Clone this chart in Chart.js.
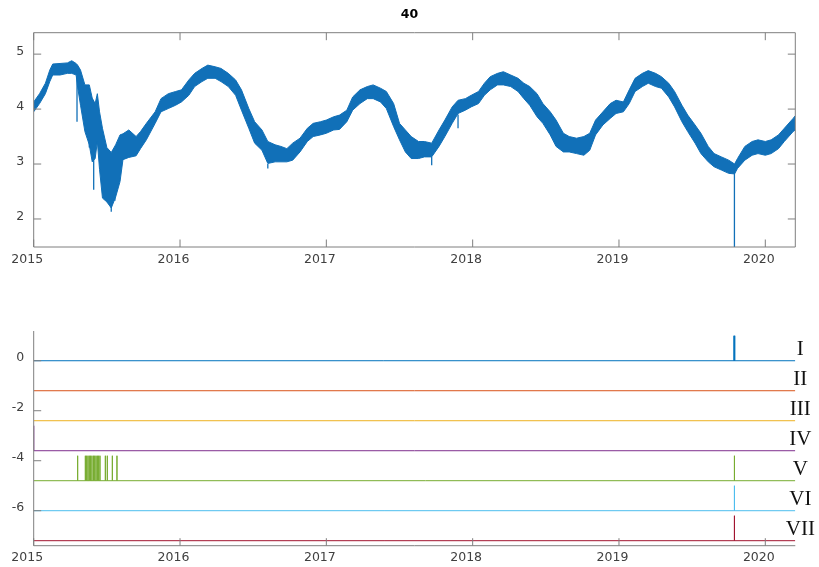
<!DOCTYPE html>
<html>
<head>
<meta charset="utf-8">
<script src="https://cdn.jsdelivr.net/npm/chart.js@4/dist/chart.umd.min.js"></script>
<style>
  html, body { margin: 0; padding: 0; background: #fff; }
  .wrap { position: absolute; left: 0; width: 819px; }
</style>
</head>
<body>
<div class="wrap" style="top:0;height:280px"><canvas id="topChart" width="819" height="280"></canvas></div>
<div class="wrap" style="top:280px;height:287px"><canvas id="botChart" width="819" height="287"></canvas></div>
<script>
// ---------------- data ----------------
const X_MIN = 2015, X_MAX = 2020.205;
const yearTicks = [2015, 2016, 2017, 2018, 2019, 2020];
const topTicks = [2, 3, 4, 5];
const botTicks = [-6, -4, -2, 0];

// upper / lower edge of the noisy signal band
const sampleYears = [
  2015.00, 2015.04, 2015.08, 2015.11, 2015.13, 2015.18, 2015.23, 2015.26, 2015.29, 2015.30,
  2015.32, 2015.35, 2015.38, 2015.40, 2015.42, 2015.435, 2015.45, 2015.47, 2015.50, 2015.53,
  2015.56, 2015.59, 2015.61, 2015.65, 2015.70, 2015.73, 2015.77, 2015.83, 2015.87, 2015.92,
  2015.97, 2016.01, 2016.06, 2016.10, 2016.15, 2016.19, 2016.24, 2016.28, 2016.33, 2016.38,
  2016.42, 2016.47, 2016.51, 2016.56, 2016.60, 2016.65, 2016.69, 2016.73, 2016.77, 2016.82,
  2016.87, 2016.91, 2016.96, 2017.00, 2017.05, 2017.09, 2017.14, 2017.18, 2017.23, 2017.28,
  2017.32, 2017.37, 2017.41, 2017.46, 2017.50, 2017.54, 2017.58, 2017.63, 2017.67, 2017.72,
  2017.77, 2017.81, 2017.86, 2017.90, 2017.95, 2017.99, 2018.04, 2018.08, 2018.12, 2018.17,
  2018.21, 2018.26, 2018.31, 2018.35, 2018.39, 2018.44, 2018.48, 2018.53, 2018.57, 2018.62,
  2018.66, 2018.71, 2018.76, 2018.80, 2018.84, 2018.89, 2018.94, 2018.98, 2019.03, 2019.07,
  2019.11, 2019.16, 2019.20, 2019.25, 2019.29, 2019.34, 2019.38, 2019.43, 2019.47, 2019.52,
  2019.56, 2019.61, 2019.65, 2019.70, 2019.75, 2019.79, 2019.81, 2019.86, 2019.91, 2019.95,
  2020.00, 2020.04, 2020.09, 2020.13, 2020.19, 2020.205
];
const bandHigh = [
  4.13, 4.28, 4.47, 4.71, 4.82, 4.83, 4.84, 4.88, 4.83, 4.80,
  4.71, 4.44, 4.44, 4.20, 4.10, 4.28, 3.95, 3.65, 3.30, 3.21,
  3.35, 3.53, 3.55, 3.62, 3.50, 3.59, 3.74, 3.95, 4.19, 4.28,
  4.32, 4.35, 4.53, 4.65, 4.74, 4.80, 4.77, 4.74, 4.65, 4.53,
  4.35, 4.01, 3.77, 3.62, 3.41, 3.35, 3.32, 3.28, 3.38, 3.47,
  3.65, 3.74, 3.77, 3.80, 3.86, 3.89, 3.98, 4.22, 4.35, 4.41,
  4.44, 4.38, 4.32, 4.10, 3.74, 3.62, 3.50, 3.41, 3.41, 3.38,
  3.62, 3.80, 4.04, 4.16, 4.19, 4.25, 4.32, 4.47, 4.59, 4.65,
  4.68, 4.62, 4.56, 4.47, 4.41, 4.28, 4.10, 3.95, 3.80, 3.56,
  3.50, 3.47, 3.50, 3.56, 3.80, 3.95, 4.10, 4.16, 4.13, 4.35,
  4.56, 4.65, 4.70, 4.65, 4.59, 4.47, 4.32, 4.07, 3.89, 3.71,
  3.56, 3.32, 3.19, 3.13, 3.07, 3.00, 3.10, 3.32, 3.41, 3.44,
  3.41, 3.44, 3.53, 3.65, 3.83, 3.88
];
const bandLow = [
  3.95, 4.10, 4.28, 4.50, 4.62, 4.62, 4.65, 4.65, 4.62, 4.40,
  4.07, 3.59, 3.35, 3.04, 3.10, 3.41, 2.90, 2.38, 2.31, 2.20,
  2.40, 2.68, 3.08, 3.12, 3.15, 3.28, 3.44, 3.74, 3.95, 4.01,
  4.07, 4.13, 4.25, 4.41, 4.50, 4.56, 4.56, 4.50, 4.41, 4.25,
  3.98, 3.65, 3.38, 3.25, 3.01, 3.04, 3.04, 3.04, 3.07, 3.22,
  3.41, 3.50, 3.53, 3.56, 3.62, 3.63, 3.77, 3.98, 4.10, 4.19,
  4.19, 4.13, 4.01, 3.68, 3.44, 3.22, 3.10, 3.10, 3.13, 3.13,
  3.32, 3.50, 3.74, 3.92, 3.98, 4.04, 4.10, 4.25, 4.35, 4.44,
  4.44, 4.41, 4.32, 4.19, 4.07, 3.86, 3.74, 3.53, 3.32, 3.22,
  3.22, 3.19, 3.16, 3.25, 3.53, 3.71, 3.83, 3.92, 3.95, 4.10,
  4.32, 4.41, 4.47, 4.41, 4.38, 4.22, 4.04, 3.77, 3.59, 3.38,
  3.19, 3.04, 2.95, 2.89, 2.83, 2.82, 2.92, 3.07, 3.16, 3.19,
  3.16, 3.19, 3.28, 3.41, 3.59, 3.62
];

// isolated outliers of the signal
const spikeYears = [2015.296, 2015.38, 2015.41, 2015.53, 2015.555, 2016.60, 2017.72, 2017.90, 2019.789];
const spikeFrom  = [4.60, 3.50, 3.10, 2.30, 2.50, 3.00, 3.13, 3.90, 2.85];
const spikeTo    = [3.77, 3.30, 2.53, 2.13, 2.33, 2.92, 2.98, 3.65, 1.30];

// lower panel: event indicators
const seriesNames   = ['I', 'II', 'III', 'IV', 'V', 'VI', 'VII'];
const seriesOffsets = [0, -1.2, -2.4, -3.6, -4.8, -6, -7.2];
const eventHeight = 1;
const eventsI   = [2019.786, 2019.791];
const eventsII  = [];
const eventsIII = [];
const eventsIV  = [2015.0];
const eventsV   = [2015.3005, 2015.353, 2015.362, 2015.371, 2015.380, 2015.389, 2015.398, 2015.408,
                   2015.417, 2015.426, 2015.435, 2015.444, 2015.453, 2015.4897, 2015.503, 2015.5375,
                   2015.569, 2019.789];
const eventsVI  = [2019.789];
const eventsVII = [2019.789];

// ---------------- styles ----------------
const BLUE = '#1170b8';
const seriesColors = ['#0072BD', '#D95319', '#EDB120', '#7E2F8E', '#77AC30', '#4DBEEE', '#A2142F'];
const AXIS = '#7f7f7f';
const LABEL = '#404040';
const tickFont = { family: 'DejaVu Sans', size: 12.5 };

Chart.defaults.font.family = 'DejaVu Sans';

// MATLAB style axes: lines plus inward ticks
const matlabAxes = {
  id: 'matlabAxes',
  afterDraw(chart, args, opts) {
    const { ctx, chartArea: a, scales } = chart;
    const L = 7.5;
    ctx.save();
    ctx.strokeStyle = AXIS;
    ctx.lineWidth = 1;
    ctx.beginPath();
    if (opts.box) {
      ctx.rect(a.left, a.top, a.right - a.left, a.bottom - a.top);
    } else {
      ctx.moveTo(a.left, a.top);
      ctx.lineTo(a.left, a.bottom);
      ctx.lineTo(a.right, a.bottom);
    }
    scales.x.ticks.forEach(t => {
      const px = scales.x.getPixelForValue(t.value);
      ctx.moveTo(px, a.bottom); ctx.lineTo(px, a.bottom - L);
      if (opts.box) { ctx.moveTo(px, a.top); ctx.lineTo(px, a.top + L); }
    });
    scales.y.ticks.forEach(t => {
      const py = scales.y.getPixelForValue(t.value);
      ctx.moveTo(a.left, py); ctx.lineTo(a.left + L, py);
      if (opts.box) { ctx.moveTo(a.right, py); ctx.lineTo(a.right - L, py); }
    });
    ctx.stroke();
    ctx.restore();
  }
};

const romanLabels = {
  id: 'romanLabels',
  afterDraw(chart) {
    const { ctx, chartArea: a, scales } = chart;
    ctx.save();
    ctx.font = '21px "Liberation Serif"';
    ctx.fillStyle = '#111';
    ctx.textAlign = 'center';
    ctx.textBaseline = 'alphabetic';
    seriesNames.forEach((name, i) => {
      const yc = scales.y.getPixelForValue(seriesOffsets[i] + 0.52);
      ctx.fillText(name, a.right + 5, yc + 7);
    });
    ctx.restore();
  }
};

function xScale(height) {
  return {
    type: 'linear', min: X_MIN, max: X_MAX,
    afterBuildTicks: s => { s.ticks = yearTicks.map(v => ({ value: v })); },
    afterFit: s => { s.height = height; },
    grid: { display: false, drawTicks: false },
    border: { display: false },
    ticks: { padding: 5, labelOffset: -6.5, color: LABEL, font: tickFont, autoSkip: false, maxRotation: 0, callback: v => String(v) }
  };
}

function yScale(min, max, ticks, labelOffset) {
  return {
    type: 'linear', min, max,
    afterBuildTicks: s => { s.ticks = ticks.map(v => ({ value: v })); },
    afterFit: s => { s.width = 33.7; },
    grid: { display: false, drawTicks: false },
    border: { display: false },
    ticks: { padding: 9.5, labelOffset, color: LABEL, font: tickFont, callback: v => String(v) }
  };
}

// ---------------- top panel ----------------
const lowPts = sampleYears.map((t, i) => ({ x: t, y: bandLow[i] }));
const highPts = sampleYears.map((t, i) => ({ x: t, y: bandHigh[i] }));
const spikePts = [];
spikeYears.forEach((t, i) => {
  spikePts.push({ x: t, y: spikeFrom[i] }, { x: t, y: spikeTo[i] }, { x: t, y: null });
});

new Chart(document.getElementById('topChart'), {
  type: 'line',
  data: {
    datasets: [
      { data: lowPts, borderColor: BLUE, borderWidth: 1, pointRadius: 0, fill: false },
      { data: highPts, borderColor: BLUE, borderWidth: 1, pointRadius: 0, fill: '-1', backgroundColor: BLUE },
      { data: spikePts, borderColor: BLUE, borderWidth: 1.3, pointRadius: 0, spanGaps: false }
    ]
  },
  options: {
    responsive: false, animation: false, devicePixelRatio: 1,
    layout: { padding: 0 },
    plugins: {
      legend: { display: false },
      tooltip: { enabled: false },
      title: {
        display: true, text: '40', color: '#000',
        font: { family: 'DejaVu Sans', size: 12.5, weight: 'bold', lineHeight: 1.2 },
        padding: { top: 7, bottom: 10.7 }
      },
      matlabAxes: { box: true }
    },
    scales: {
      x: xScale(33),
      y: yScale(1.49, 5.39, topTicks, -2),
      yR: {
        position: 'right', type: 'linear', min: 1.49, max: 5.39,
        afterFit: s => { s.width = 23.7; },
        ticks: { display: false }, grid: { display: false }, border: { display: false }
      }
    }
  },
  plugins: [matlabAxes]
});

// ---------------- bottom panel ----------------
const allEvents = [eventsI, eventsII, eventsIII, eventsIV, eventsV, eventsVI, eventsVII];
const botDatasets = seriesNames.map((name, i) => {
  const off = seriesOffsets[i];
  const pts = [{ x: X_MIN, y: off }];
  allEvents[i].forEach(t => {
    pts.push({ x: t, y: off }, { x: t, y: off + eventHeight }, { x: t, y: off });
  });
  pts.push({ x: X_MAX, y: off });
  return { label: name, data: pts, borderColor: seriesColors[i], borderWidth: 1, pointRadius: 0, tension: 0 };
});

new Chart(document.getElementById('botChart'), {
  type: 'line',
  data: { datasets: botDatasets },
  options: {
    responsive: false, animation: false, devicePixelRatio: 1,
    layout: { padding: { top: 51, right: 23.7, left: 0, bottom: 0 } },
    plugins: {
      legend: { display: false },
      tooltip: { enabled: false },
      matlabAxes: { box: false }
    },
    scales: {
      x: xScale(21.3),
      y: yScale(-7.4, 1.19, botTicks, -3)
    }
  },
  plugins: [matlabAxes, romanLabels]
});
</script>
</body>
</html>
